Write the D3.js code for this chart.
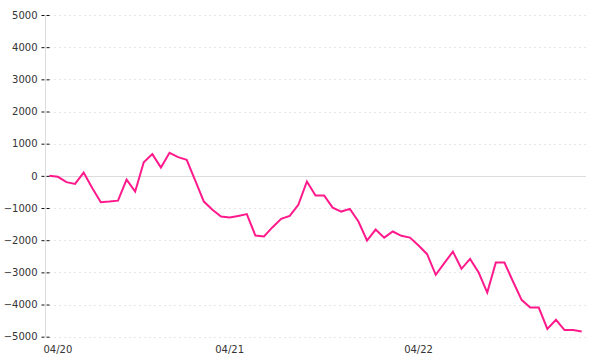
<!DOCTYPE html>
<html>
<head>
<meta charset="utf-8">
<script src="https://cdn.jsdelivr.net/npm/d3@7"></script>
<style>
  body { margin: 0; background: #fff; }
  .chart text { font-family: "DejaVu Sans", Verdana, sans-serif; font-size: 10px; fill: #333; }
</style>
</head>
<body>
<div class="chart"></div>
<script>
// values, one per point
const values = [
  0, -30, -195, -250, 100, -380, -820, -800, -770, -115,
  -490, 425, 675, 260, 715, 580, 500, -150, -800, -1055,
  -1265, -1295, -1245, -1190, -1855, -1885, -1595, -1335, -1245, -900,
  -175, -610, -610, -990, -1110, -1025, -1420, -2010, -1670, -1920,
  -1730, -1865, -1920, -2165, -2435, -3075, -2715, -2355, -2890, -2580,
  -3005, -3630, -2695, -2695, -3285, -3855, -4095, -4095, -4755, -4475,
  -4795, -4795, -4840
];
const xLabels = ["04/20", "04/21", "04/22"];
const xLabelIdx = [1, 21, 43];
const yTicks = [5000, 4000, 3000, 2000, 1000, 0, -1000, -2000, -3000, -4000, -5000];

const width = 600, height = 360;
const margin = {top: 15, right: 14, bottom: 23, left: 45};

const svg = d3.select(".chart").append("svg")
  .attr("width", width)
  .attr("height", height);

const x = d3.scalePoint()
  .domain(d3.range(values.length))
  .range([margin.left, width - margin.right])
  .padding(0.5);

const y = d3.scaleLinear()
  .domain([-5000, 5000])
  .range([height - margin.bottom - 0.3, margin.top]);

// grid lines
svg.append("g")
  .selectAll("line")
  .data(yTicks.filter(d => d !== 0))
  .join("line")
    .attr("x1", margin.left + 4)
    .attr("x2", width - margin.right)
    .attr("y1", d => Math.round(y(d)) + 0.5)
    .attr("y2", d => Math.round(y(d)) + 0.5)
    .attr("stroke", "#e6e6e6")
    .attr("stroke-dasharray", "2,3");

// zero line
svg.append("line")
  .attr("x1", margin.left)
  .attr("x2", width - margin.right)
  .attr("y1", Math.round(y(0)) + 0.5)
  .attr("y2", Math.round(y(0)) + 0.5)
  .attr("stroke", "#dcdcdc");

// y axis
const yAxis = svg.append("g")
  .attr("transform", `translate(${margin.left + 0.5},0)`)
  .call(d3.axisLeft(y).tickValues(yTicks).tickSize(6).tickPadding(2)
    .tickFormat(d3.format("d")));

yAxis.select(".domain")
  .attr("stroke", "#dcdcdc")
  .attr("d", `M0,${margin.top}V${height - margin.bottom}`);

yAxis.selectAll(".tick line")
  .attr("stroke", "#111")
  .attr("x1", 4)
  .attr("x2", -6)
  .attr("stroke-dasharray", "3,2");

yAxis.selectAll(".tick text")
  .attr("fill", "#333")
  .text(d => d < 0 ? "\u2212" + Math.abs(d) : d);

// x labels
svg.append("g")
  .selectAll("text")
  .data(xLabels)
  .join("text")
    .attr("x", (d, i) => x(xLabelIdx[i]))
    .attr("y", 353)
    .attr("text-anchor", "middle")
    .text(d => d);

// the line
const line = d3.line()
  .x((d, i) => x(i))
  .y(d => y(d));

svg.append("path")
  .datum(values)
  .attr("fill", "none")
  .attr("stroke", "#ff1a8c")
  .attr("stroke-width", 2)
  .attr("stroke-linejoin", "miter")
  .attr("d", line);
</script>
</body>
</html>
